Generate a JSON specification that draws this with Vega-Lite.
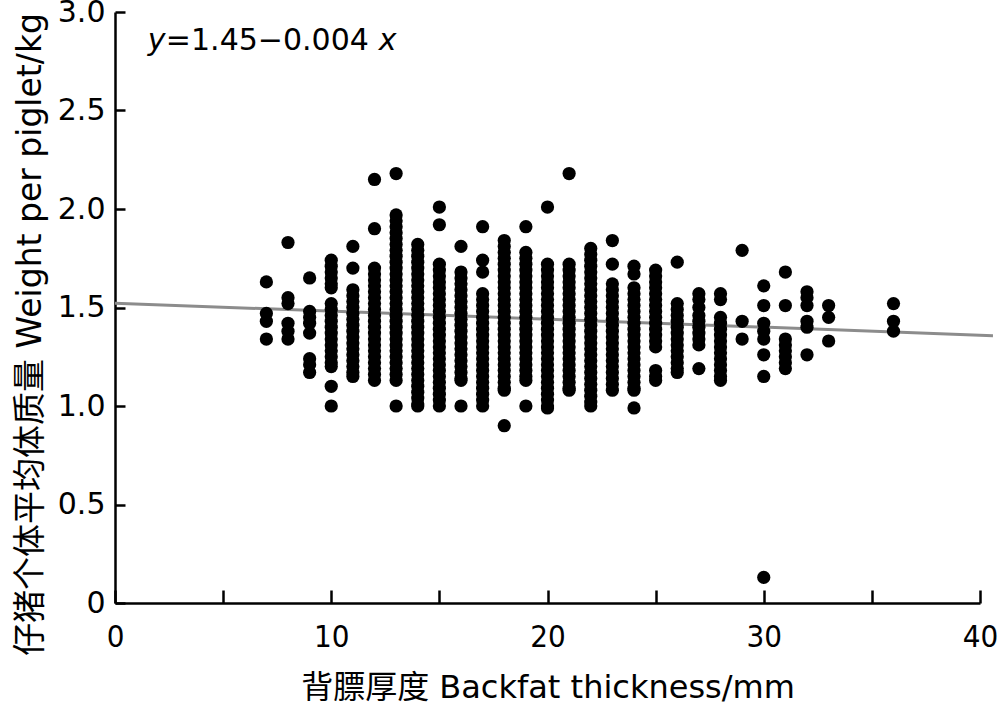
{
"$schema": "https://vega.github.io/schema/vega-lite/v6.json",
"width": 865, "height": 591,
"autosize": "none",
"padding": {"left": 115, "top": 12, "right": 20, "bottom": 102},
"background": "white",
"config": {"view": {"stroke": null}, "axis": {"grid": false, "domainColor": "black", "tickColor": "black", "labelColor": "black", "titleColor": "black", "domainWidth": 2.5, "tickWidth": 2.5, "titleFontWeight": "normal"}},
"datasets": {
"pts": [
{"x":7,"y":1.63},{"x":7,"y":1.47},{"x":7,"y":1.43},{"x":7,"y":1.34},
{"x":8,"y":1.83},{"x":8,"y":1.55},{"x":8,"y":1.52},{"x":8,"y":1.42},{"x":8,"y":1.38},{"x":8,"y":1.34},
{"x":9,"y":1.65},{"x":9,"y":1.48},{"x":9,"y":1.45},{"x":9,"y":1.42},{"x":9,"y":1.37},{"x":9,"y":1.24},{"x":9,"y":1.21},{"x":9,"y":1.17},
{"x":10,"y":1.74},{"x":10,"y":1.71},{"x":10,"y":1.68},{"x":10,"y":1.65},{"x":10,"y":1.62},{"x":10,"y":1.60},{"x":10,"y":1.52},{"x":10,"y":1.49},{"x":10,"y":1.46},{"x":10,"y":1.43},{"x":10,"y":1.40},{"x":10,"y":1.37},{"x":10,"y":1.34},{"x":10,"y":1.31},{"x":10,"y":1.28},{"x":10,"y":1.25},{"x":10,"y":1.22},{"x":10,"y":1.20},{"x":10,"y":1.10},{"x":10,"y":1.00},
{"x":11,"y":1.81},{"x":11,"y":1.70},{"x":11,"y":1.59},{"x":11,"y":1.56},{"x":11,"y":1.53},{"x":11,"y":1.50},{"x":11,"y":1.47},{"x":11,"y":1.44},{"x":11,"y":1.41},{"x":11,"y":1.38},{"x":11,"y":1.35},{"x":11,"y":1.32},{"x":11,"y":1.29},{"x":11,"y":1.26},{"x":11,"y":1.23},{"x":11,"y":1.20},{"x":11,"y":1.17},{"x":11,"y":1.15},
{"x":12,"y":2.15},{"x":12,"y":1.90},{"x":12,"y":1.70},{"x":12,"y":1.67},{"x":12,"y":1.64},{"x":12,"y":1.61},{"x":12,"y":1.58},{"x":12,"y":1.55},{"x":12,"y":1.52},{"x":12,"y":1.49},{"x":12,"y":1.46},{"x":12,"y":1.43},{"x":12,"y":1.40},{"x":12,"y":1.37},{"x":12,"y":1.34},{"x":12,"y":1.31},{"x":12,"y":1.28},{"x":12,"y":1.25},{"x":12,"y":1.22},{"x":12,"y":1.19},{"x":12,"y":1.16},{"x":12,"y":1.13},
{"x":13,"y":2.18},{"x":13,"y":1.97},{"x":13,"y":1.94},{"x":13,"y":1.91},{"x":13,"y":1.88},{"x":13,"y":1.85},{"x":13,"y":1.82},{"x":13,"y":1.79},{"x":13,"y":1.76},{"x":13,"y":1.73},{"x":13,"y":1.70},{"x":13,"y":1.67},{"x":13,"y":1.64},{"x":13,"y":1.61},{"x":13,"y":1.58},{"x":13,"y":1.55},{"x":13,"y":1.52},{"x":13,"y":1.49},{"x":13,"y":1.46},{"x":13,"y":1.43},{"x":13,"y":1.40},{"x":13,"y":1.37},{"x":13,"y":1.34},{"x":13,"y":1.31},{"x":13,"y":1.28},{"x":13,"y":1.25},{"x":13,"y":1.22},{"x":13,"y":1.19},{"x":13,"y":1.16},{"x":13,"y":1.13},{"x":13,"y":1.00},
{"x":14,"y":1.82},{"x":14,"y":1.79},{"x":14,"y":1.76},{"x":14,"y":1.73},{"x":14,"y":1.70},{"x":14,"y":1.67},{"x":14,"y":1.64},{"x":14,"y":1.61},{"x":14,"y":1.58},{"x":14,"y":1.55},{"x":14,"y":1.52},{"x":14,"y":1.49},{"x":14,"y":1.46},{"x":14,"y":1.43},{"x":14,"y":1.40},{"x":14,"y":1.37},{"x":14,"y":1.34},{"x":14,"y":1.31},{"x":14,"y":1.28},{"x":14,"y":1.25},{"x":14,"y":1.22},{"x":14,"y":1.19},{"x":14,"y":1.16},{"x":14,"y":1.13},{"x":14,"y":1.10},{"x":14,"y":1.07},{"x":14,"y":1.04},{"x":14,"y":1.01},{"x":14,"y":1.00},
{"x":15,"y":2.01},{"x":15,"y":1.92},{"x":15,"y":1.72},{"x":15,"y":1.69},{"x":15,"y":1.66},{"x":15,"y":1.63},{"x":15,"y":1.60},{"x":15,"y":1.57},{"x":15,"y":1.54},{"x":15,"y":1.51},{"x":15,"y":1.48},{"x":15,"y":1.45},{"x":15,"y":1.42},{"x":15,"y":1.39},{"x":15,"y":1.36},{"x":15,"y":1.33},{"x":15,"y":1.30},{"x":15,"y":1.27},{"x":15,"y":1.24},{"x":15,"y":1.21},{"x":15,"y":1.18},{"x":15,"y":1.15},{"x":15,"y":1.12},{"x":15,"y":1.09},{"x":15,"y":1.06},{"x":15,"y":1.03},{"x":15,"y":1.00},
{"x":16,"y":1.81},{"x":16,"y":1.68},{"x":16,"y":1.65},{"x":16,"y":1.62},{"x":16,"y":1.59},{"x":16,"y":1.56},{"x":16,"y":1.53},{"x":16,"y":1.50},{"x":16,"y":1.47},{"x":16,"y":1.44},{"x":16,"y":1.41},{"x":16,"y":1.38},{"x":16,"y":1.35},{"x":16,"y":1.32},{"x":16,"y":1.29},{"x":16,"y":1.26},{"x":16,"y":1.23},{"x":16,"y":1.20},{"x":16,"y":1.17},{"x":16,"y":1.14},{"x":16,"y":1.13},{"x":16,"y":1.00},
{"x":17,"y":1.91},{"x":17,"y":1.74},{"x":17,"y":1.68},{"x":17,"y":1.57},{"x":17,"y":1.54},{"x":17,"y":1.51},{"x":17,"y":1.48},{"x":17,"y":1.45},{"x":17,"y":1.42},{"x":17,"y":1.39},{"x":17,"y":1.36},{"x":17,"y":1.33},{"x":17,"y":1.30},{"x":17,"y":1.27},{"x":17,"y":1.24},{"x":17,"y":1.21},{"x":17,"y":1.18},{"x":17,"y":1.15},{"x":17,"y":1.12},{"x":17,"y":1.09},{"x":17,"y":1.06},{"x":17,"y":1.03},{"x":17,"y":1.00},
{"x":18,"y":1.84},{"x":18,"y":1.81},{"x":18,"y":1.78},{"x":18,"y":1.75},{"x":18,"y":1.72},{"x":18,"y":1.69},{"x":18,"y":1.66},{"x":18,"y":1.63},{"x":18,"y":1.60},{"x":18,"y":1.57},{"x":18,"y":1.54},{"x":18,"y":1.51},{"x":18,"y":1.48},{"x":18,"y":1.45},{"x":18,"y":1.42},{"x":18,"y":1.39},{"x":18,"y":1.36},{"x":18,"y":1.33},{"x":18,"y":1.30},{"x":18,"y":1.27},{"x":18,"y":1.24},{"x":18,"y":1.21},{"x":18,"y":1.18},{"x":18,"y":1.15},{"x":18,"y":1.12},{"x":18,"y":1.09},{"x":18,"y":1.08},{"x":18,"y":0.90},
{"x":19,"y":1.91},{"x":19,"y":1.78},{"x":19,"y":1.75},{"x":19,"y":1.72},{"x":19,"y":1.69},{"x":19,"y":1.66},{"x":19,"y":1.63},{"x":19,"y":1.60},{"x":19,"y":1.57},{"x":19,"y":1.54},{"x":19,"y":1.51},{"x":19,"y":1.48},{"x":19,"y":1.45},{"x":19,"y":1.42},{"x":19,"y":1.39},{"x":19,"y":1.36},{"x":19,"y":1.33},{"x":19,"y":1.30},{"x":19,"y":1.27},{"x":19,"y":1.24},{"x":19,"y":1.21},{"x":19,"y":1.18},{"x":19,"y":1.15},{"x":19,"y":1.13},{"x":19,"y":1.00},
{"x":20,"y":2.01},{"x":20,"y":1.72},{"x":20,"y":1.69},{"x":20,"y":1.66},{"x":20,"y":1.63},{"x":20,"y":1.60},{"x":20,"y":1.57},{"x":20,"y":1.54},{"x":20,"y":1.51},{"x":20,"y":1.48},{"x":20,"y":1.45},{"x":20,"y":1.42},{"x":20,"y":1.39},{"x":20,"y":1.36},{"x":20,"y":1.33},{"x":20,"y":1.30},{"x":20,"y":1.27},{"x":20,"y":1.24},{"x":20,"y":1.21},{"x":20,"y":1.18},{"x":20,"y":1.15},{"x":20,"y":1.12},{"x":20,"y":1.09},{"x":20,"y":1.06},{"x":20,"y":1.03},{"x":20,"y":1.00},{"x":20,"y":0.99},
{"x":21,"y":2.18},{"x":21,"y":1.72},{"x":21,"y":1.69},{"x":21,"y":1.66},{"x":21,"y":1.63},{"x":21,"y":1.60},{"x":21,"y":1.57},{"x":21,"y":1.54},{"x":21,"y":1.51},{"x":21,"y":1.48},{"x":21,"y":1.45},{"x":21,"y":1.42},{"x":21,"y":1.39},{"x":21,"y":1.36},{"x":21,"y":1.33},{"x":21,"y":1.30},{"x":21,"y":1.27},{"x":21,"y":1.24},{"x":21,"y":1.21},{"x":21,"y":1.18},{"x":21,"y":1.15},{"x":21,"y":1.12},{"x":21,"y":1.09},{"x":21,"y":1.08},
{"x":22,"y":1.80},{"x":22,"y":1.77},{"x":22,"y":1.74},{"x":22,"y":1.71},{"x":22,"y":1.68},{"x":22,"y":1.65},{"x":22,"y":1.62},{"x":22,"y":1.59},{"x":22,"y":1.56},{"x":22,"y":1.53},{"x":22,"y":1.50},{"x":22,"y":1.47},{"x":22,"y":1.44},{"x":22,"y":1.41},{"x":22,"y":1.38},{"x":22,"y":1.35},{"x":22,"y":1.32},{"x":22,"y":1.29},{"x":22,"y":1.26},{"x":22,"y":1.23},{"x":22,"y":1.20},{"x":22,"y":1.17},{"x":22,"y":1.14},{"x":22,"y":1.11},{"x":22,"y":1.08},{"x":22,"y":1.05},{"x":22,"y":1.02},{"x":22,"y":1.00},
{"x":23,"y":1.84},{"x":23,"y":1.72},{"x":23,"y":1.62},{"x":23,"y":1.59},{"x":23,"y":1.56},{"x":23,"y":1.53},{"x":23,"y":1.50},{"x":23,"y":1.47},{"x":23,"y":1.44},{"x":23,"y":1.41},{"x":23,"y":1.38},{"x":23,"y":1.35},{"x":23,"y":1.32},{"x":23,"y":1.29},{"x":23,"y":1.26},{"x":23,"y":1.23},{"x":23,"y":1.20},{"x":23,"y":1.17},{"x":23,"y":1.14},{"x":23,"y":1.11},{"x":23,"y":1.08},
{"x":24,"y":1.71},{"x":24,"y":1.67},{"x":24,"y":1.60},{"x":24,"y":1.57},{"x":24,"y":1.54},{"x":24,"y":1.51},{"x":24,"y":1.48},{"x":24,"y":1.45},{"x":24,"y":1.42},{"x":24,"y":1.39},{"x":24,"y":1.36},{"x":24,"y":1.33},{"x":24,"y":1.30},{"x":24,"y":1.27},{"x":24,"y":1.24},{"x":24,"y":1.21},{"x":24,"y":1.18},{"x":24,"y":1.15},{"x":24,"y":1.12},{"x":24,"y":1.09},{"x":24,"y":1.08},{"x":24,"y":0.99},
{"x":25,"y":1.69},{"x":25,"y":1.66},{"x":25,"y":1.63},{"x":25,"y":1.60},{"x":25,"y":1.57},{"x":25,"y":1.54},{"x":25,"y":1.51},{"x":25,"y":1.48},{"x":25,"y":1.45},{"x":25,"y":1.42},{"x":25,"y":1.39},{"x":25,"y":1.36},{"x":25,"y":1.33},{"x":25,"y":1.30},{"x":25,"y":1.18},{"x":25,"y":1.15},{"x":25,"y":1.13},
{"x":26,"y":1.73},{"x":26,"y":1.52},{"x":26,"y":1.49},{"x":26,"y":1.46},{"x":26,"y":1.43},{"x":26,"y":1.40},{"x":26,"y":1.37},{"x":26,"y":1.34},{"x":26,"y":1.31},{"x":26,"y":1.28},{"x":26,"y":1.25},{"x":26,"y":1.22},{"x":26,"y":1.19},{"x":26,"y":1.17},
{"x":27,"y":1.57},{"x":27,"y":1.54},{"x":27,"y":1.50},{"x":27,"y":1.46},{"x":27,"y":1.43},{"x":27,"y":1.40},{"x":27,"y":1.37},{"x":27,"y":1.34},{"x":27,"y":1.31},{"x":27,"y":1.19},
{"x":28,"y":1.57},{"x":28,"y":1.54},{"x":28,"y":1.45},{"x":28,"y":1.42},{"x":28,"y":1.39},{"x":28,"y":1.36},{"x":28,"y":1.33},{"x":28,"y":1.30},{"x":28,"y":1.27},{"x":28,"y":1.24},{"x":28,"y":1.21},{"x":28,"y":1.18},{"x":28,"y":1.15},{"x":28,"y":1.13},
{"x":29,"y":1.79},{"x":29,"y":1.43},{"x":29,"y":1.34},
{"x":30,"y":1.61},{"x":30,"y":1.51},{"x":30,"y":1.42},{"x":30,"y":1.38},{"x":30,"y":1.34},{"x":30,"y":1.26},{"x":30,"y":1.15},{"x":30,"y":0.13},
{"x":31,"y":1.68},{"x":31,"y":1.51},{"x":31,"y":1.34},{"x":31,"y":1.31},{"x":31,"y":1.28},{"x":31,"y":1.25},{"x":31,"y":1.22},{"x":31,"y":1.19},
{"x":32,"y":1.58},{"x":32,"y":1.55},{"x":32,"y":1.51},{"x":32,"y":1.43},{"x":32,"y":1.40},{"x":32,"y":1.26},
{"x":33,"y":1.51},{"x":33,"y":1.45},{"x":33,"y":1.33},
{"x":36,"y":1.52},{"x":36,"y":1.43},{"x":36,"y":1.38}
],
"fit": [{"x":0,"y":1.522},{"x":40.6,"y":1.357}],
"eq": [{"x":1.52,"y":2.853}]
},
"layer": [
{"data": {"name": "fit"}, "mark": {"type": "line", "color": "#8c8c8c", "strokeWidth": 3, "clip": false},
 "encoding": {
  "x": {"field": "x", "type": "quantitative", "scale": {"domain": [0, 40], "nice": false, "zero": false},
   "axis": {"values": [0,5,10,15,20,25,30,35,40], "labelExpr": "datum.value % 10 === 0 ? datum.label : ''", "tickSize": -13, "labelPadding": 32, "labelFont": "DejaVu Sans Condensed, DejaVu Sans, sans-serif", "labelFontSize": 31, "labelFlush": false, "title": "背膘厚度 Backfat thickness/mm", "titleFont": "DejaVu Sans, Noto Sans CJK SC, sans-serif", "titleFontSize": 32, "titlePadding": 20}},
  "y": {"field": "y", "type": "quantitative", "scale": {"domain": [0, 3], "nice": false},
   "axis": {"values": [0,0.5,1,1.5,2,2.5,3], "labelExpr": "datum.value === 0 ? '0' : format(datum.value, '.1f')", "tickSize": -10, "labelPadding": 20, "labelFont": "DejaVu Sans, sans-serif", "labelFontSize": 30, "labelFlush": false, "title": "仔猪个体平均体质量 Weight per piglet/kg", "titleFont": "DejaVu Sans, Noto Sans CJK SC, sans-serif", "titleFontSize": 33, "titleX": -85, "titleY": 322, "titleAlign": "center", "titleBaseline": "middle", "titleAngle": -90}}
 }},
{"data": {"name": "pts"}, "mark": {"type": "circle", "size": 175, "color": "black", "opacity": 1},
 "encoding": {"x": {"field": "x", "type": "quantitative"}, "y": {"field": "y", "type": "quantitative"}}},
{"data": {"name": "eq"}, "mark": {"type": "text", "text": "y", "fontStyle": "italic", "font": "DejaVu Sans, sans-serif", "fontSize": 30, "align": "left", "baseline": "middle", "color": "black"},
 "encoding": {"x": {"field": "x", "type": "quantitative"}, "y": {"field": "y", "type": "quantitative"}}},
{"data": {"name": "eq"}, "mark": {"type": "text", "text": "=1.45−0.004", "font": "DejaVu Sans, sans-serif", "fontSize": 30, "align": "left", "baseline": "middle", "dx": 18, "color": "black"},
 "encoding": {"x": {"field": "x", "type": "quantitative"}, "y": {"field": "y", "type": "quantitative"}}},
{"data": {"name": "eq"}, "mark": {"type": "text", "text": "x", "fontStyle": "italic", "font": "DejaVu Sans, sans-serif", "fontSize": 30, "align": "left", "baseline": "middle", "dx": 231, "color": "black"},
 "encoding": {"x": {"field": "x", "type": "quantitative"}, "y": {"field": "y", "type": "quantitative"}}}
]
}
